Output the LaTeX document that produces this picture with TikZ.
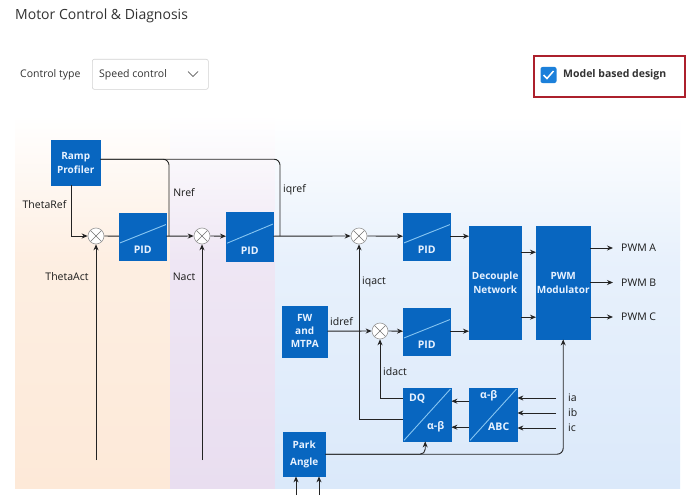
\documentclass[tikz,border=0pt]{standalone}
\usepackage{fontspec}
\setmainfont{Open Sans}
\usetikzlibrary{arrows.meta,calc}
\definecolor{blk}{RGB}{8,102,192}
\definecolor{diagc}{RGB}{135,198,242}
\definecolor{btxt}{RGB}{232,242,255}
\definecolor{wire}{RGB}{35,35,35}
\definecolor{bgor}{RGB}{253,233,216}
\definecolor{bgpu}{RGB}{233,222,240}
\definecolor{bgbl}{RGB}{219,233,250}
\definecolor{redframe}{RGB}{172,32,44}
\definecolor{chk}{RGB}{28,128,218}
\definecolor{titlec}{RGB}{50,50,50}
\definecolor{lblc}{RGB}{25,25,25}
\begin{document}
\begin{tikzpicture}[x=1pt,y=-1pt,
  bfont/.style={font=\fontsize{10}{14}\selectfont\bfseries},
  block/.style={draw=blk, line width=0.4pt, fill=blk, text=btxt, bfont, align=center, inner sep=0pt, anchor=north west},
  pidbox/.style={block, minimum width=47pt, minimum height=47pt,
    path picture={\draw[diagc,line width=0.9pt] ($(path picture bounding box.south west)!0.35!(path picture bounding box.north west)$) -- ($(path picture bounding box.south east)!0.75!(path picture bounding box.north east)$);},
    label={[label distance=-15.5pt, inner sep=1pt, text=btxt, font=\fontsize{10.5}{12}\selectfont\bfseries]below:PID}},
  convbox/.style={block, minimum width=48pt, minimum height=53pt,
    path picture={\draw[diagc,line width=0.9pt] (path picture bounding box.south west) -- (path picture bounding box.north east);}},
  btext/.style={text=btxt, font=\fontsize{10.5}{12}\selectfont\bfseries, inner sep=0pt, anchor=west},
  sumj/.style={circle, draw=gray!80, fill=white, line width=0.6pt, minimum size=16pt, inner sep=0pt,
    path picture={\draw[gray!90!black, line width=0.6pt] (path picture bounding box.center) ++(-5.7,-5.7) -- ++(11.4,11.4);
                  \draw[gray!90!black, line width=0.6pt] (path picture bounding box.center) ++(-5.7,5.7) -- ++(11.4,-11.4);}},
  wire/.style={draw=wire, line width=0.9pt},
  arr/.style={wire, -{Stealth[length=6pt,width=5pt]}},
  lbl/.style={font=\fontsize{10.5}{12}\selectfont, text=lblc, inner sep=0pt}
]
\useasboundingbox (0,0) rectangle (693,495);
\fill[white] (0,0) rectangle (693,495);
% backgrounds
\shade[top color=white, bottom color=bgor!75] (15,115) rectangle (170,260);
\shade[top color=bgor!75, bottom color=bgor] (15,260) rectangle (170,488);
\shade[top color=white, bottom color=bgpu!75] (170,115) rectangle (275,260);
\shade[top color=bgpu!75, bottom color=bgpu] (170,260) rectangle (275,488);
\shade[top color=white, bottom color=bgbl!65] (275,115) rectangle (680,260);
\shade[top color=bgbl!65, bottom color=bgbl] (275,260) rectangle (680,488);

% header
\node[anchor=west, font=\fontsize{14}{16}\selectfont, text=titlec, inner sep=0pt] (title) at (15,15.5) {Motor Control \& Diagnosis};
\node[anchor=west, font=\fontsize{10.5}{12}\selectfont, text=titlec, inner sep=0pt] (ctl) at (20,74.5) {Control type};
\node[draw=gray!35, rounded corners=2pt, line width=0.6pt, minimum width=116pt, minimum height=30pt, anchor=north west, inner sep=0pt] (dd) at (92,59) {};
\node[anchor=west, font=\fontsize{10.5}{12}\selectfont, text=titlec, inner sep=0pt] (ddt) at (99,74.5) {Speed control};
\draw[titlec, line width=0.7pt] (188,71.5) -- (193,76.5) -- (198,71.5);
\node[draw=redframe, line width=1.8pt, minimum width=151pt, minimum height=41pt, anchor=north west, inner sep=0pt] (mbd) at (533,55) {};
\node[fill=chk, rounded corners=2pt, minimum size=16pt, inner sep=0pt] (cb) at (548.5,75) {};
\draw[white, line width=1.5pt] (543.5,75) -- (547,78.5) -- (553.5,71);
\node[anchor=west, font=\fontsize{10.5}{12}\selectfont\bfseries, text=titlec, inner sep=0pt] (mbdt) at (563,75) {Model based design};

% blocks
\node[block, minimum width=49pt, minimum height=45pt] (ramp) at (51,140) {Ramp\\Profiler};
\node[sumj] (s1) at (96,236) {};
\node[pidbox] (p1) at (119,212.5) {};
\node[sumj] (s2) at (202,236) {};
\node[pidbox, minimum height=49pt] (p2) at (226,211.5) {};
\node[sumj] (s3) at (359,236) {};
\node[pidbox] (p3) at (403,212.5) {};
\node[block, minimum width=52pt, minimum height=113pt] (dec) at (469,226) {Decouple\\Network};
\node[block, minimum width=54pt, minimum height=113pt] (pwm) at (536,226) {PWM\\Modulator};
\node[block, minimum width=45pt, minimum height=51pt, font=\fontsize{10}{13}\selectfont\bfseries] (fw) at (282,305.5) {FW\\and\\MTPA};
\node[sumj] (s4) at (380,331) {};
\node[pidbox] (p4) at (403,307.5) {};
\node[convbox] (dq) at (403,388) {};
\node[btext] (dqa) at (409,399) {DQ};
\node[btext] (dqb) at (427,427) {α-β};
\node[convbox] (abc) at (469,388) {};
\node[btext] (abca) at (480,396) {α-β};
\node[btext] (abcb) at (488,427) {ABC};
\node[block, minimum width=42pt, minimum height=44pt, font=\fontsize{10}{17}\selectfont\bfseries] (park) at (283,432) {Park\\Angle};

% labels
\node[lbl] (lthr) at (44.5,205) {ThetaRef};
\node[lbl] (ltha) at (67,277) {ThetaAct};
\node[lbl] (lnref) at (184,193) {Nref};
\node[lbl] (lnact) at (184,277) {Nact};
\node[lbl, anchor=west] (liqref) at (283,190) {iqref};
\node[lbl, anchor=west] (liqact) at (362,282) {iqact};
\node[lbl, anchor=west] (lidref) at (330,322) {idref};
\node[lbl, anchor=west] (lidact) at (383,372) {idact};
\node[lbl, anchor=west] (pa) at (621,248) {PWM A};
\node[lbl, anchor=west] (pb) at (621,282.5) {PWM B};
\node[lbl, anchor=west] (pc) at (621,317) {PWM C};
\node[lbl, anchor=west] (ia) at (568,398) {ia};
\node[lbl, anchor=west] (ib) at (568,413) {ib};
\node[lbl, anchor=west] (ic) at (568,428) {ic};

% coordinates
\coordinate (nj) at (169,236);
\coordinate (qj) at (280,236);
\coordinate (ta) at (96,460);
\coordinate (na) at (202,460);
\coordinate (pk1) at (296,495);
\coordinate (pk2) at (319,495);

% connectors
\draw[wire, rounded corners=6pt] ([yshift=3.5pt]ramp.east) -| (nj);
\draw[wire, rounded corners=6pt] ([yshift=3.5pt]ramp.east) -| (qj);
\draw[arr] ([xshift=-4pt]ramp.south) |- (s1.west);
\draw[arr] (ta) -- (s1.south);
\draw[wire] (s1.east) -- (p1.west);
\draw[arr] (p1.east) -- (s2.west);
\draw[arr] (na) -- (s2.south);
\draw[arr] (s2.east) -- (p2.west);
\draw[arr] (p2.east) -- (s3.west);
\draw[arr] (s3.east) -- (p3.west);
\draw[arr] (p3.east) -- (dec.west |- p3.east);
\draw[arr] (fw.east) -- (s4.west);
\draw[arr] (s4.east) -- (p4.west);
\draw[arr] (p4.east) -- (dec.west |- p4.east);
\draw[arr] ([yshift=30.5pt]dec.east) -- ([yshift=30.5pt]pwm.west);
\draw[arr] ([yshift=-34.5pt]dec.east) -- ([yshift=-34.5pt]pwm.west);
\draw[arr] (pwm.east |- pa.west) -- ([xshift=-8pt]pa.west);
\draw[arr] (pwm.east |- pb.west) -- ([xshift=-8pt]pb.west);
\draw[arr] (pwm.east |- pc.west) -- ([xshift=-8pt]pc.west);
\draw[arr] ([xshift=-12pt]ia.west) -- (abc.east |- ia.west);
\draw[arr] ([xshift=-12pt]ib.west) -- (abc.east |- ib.west);
\draw[arr] ([xshift=-12pt]ic.west) -- (abc.east |- ic.west);
\draw[arr] ([yshift=13.5pt]abc.west) -- ([yshift=13.5pt]dq.east);
\draw[arr] ([yshift=-12.5pt]abc.west) -- ([yshift=-12.5pt]dq.east);
\draw[arr] ([yshift=16.5pt]dq.west) -| (s4.south);
\draw[arr] ([yshift=-4.5pt]dq.west) -| (s3.south);
\draw[arr, rounded corners=5pt] (park.east) -| ([xshift=-2pt]dq.south);
\draw[arr, rounded corners=6pt] (park.east) -| (pwm.south);
\draw[arr] (pk1) -- (park.south -| pk1);
\draw[arr] (pk2) -- (park.south -| pk2);
\end{tikzpicture}
\end{document}
